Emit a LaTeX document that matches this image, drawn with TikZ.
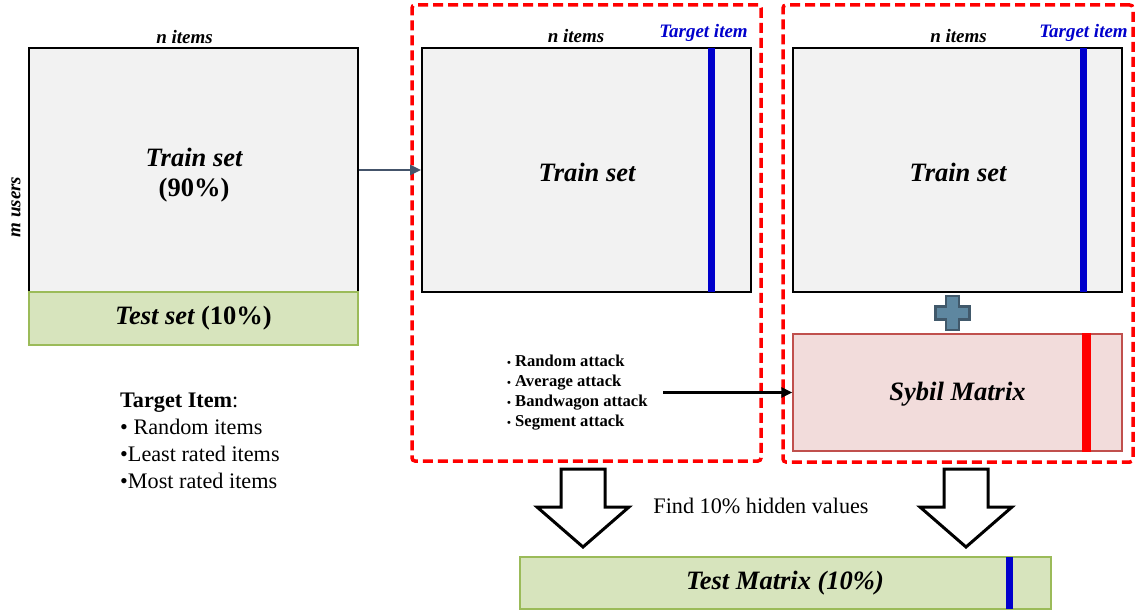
\documentclass[tikz,border=0pt]{standalone}
\usepackage{fontspec}
\setmainfont{Liberation Serif}
\usetikzlibrary{arrows.meta,calc}
\definecolor{grayfill}{HTML}{F2F2F2}
\definecolor{greenfill}{HTML}{D7E4BD}
\definecolor{greenline}{HTML}{9BBB59}
\definecolor{pinkfill}{HTML}{F2DCDB}
\definecolor{pinkline}{HTML}{C0504D}
\definecolor{tblue}{HTML}{0000CC}
\definecolor{slate}{HTML}{44546A}
\definecolor{plusfill}{HTML}{5E87A0}
\definecolor{plusline}{HTML}{41596B}
\newcommand{\bigbi}{\fontsize{26.5}{30}\selectfont\bfseries\itshape}
\newcommand{\smallbi}{\fontsize{19}{22}\selectfont\bfseries\itshape}
\newcommand{\smb}{{\fontsize{11}{11}\selectfont\textbullet}}
\begin{document}
\begin{tikzpicture}[x=1pt,y=-1pt,
  mat/.style={draw=black, line width=2pt, fill=grayfill, inner sep=0pt, minimum width=329pt, minimum height=244pt, align=center, font=\bigbi},
  greenbox/.style={draw=greenline, line width=2pt, fill=greenfill, inner sep=0pt, font=\bigbi},
  redbox/.style={draw=red, line width=3.5pt, dash pattern=on 10pt off 5pt, rounded corners=3pt, inner sep=0pt},
  bluebar/.style={fill=tblue, inner sep=0pt, minimum width=7pt},
  lbl/.style={inner sep=0pt, font=\smallbi},
  tlbl/.style={inner sep=0pt, font=\smallbi, text=tblue},
  txt/.style={inner sep=0pt, font=\bigbi},
  hollow/.style={draw=black, fill=white, line width=3pt, line join=miter},
  conn/.style={line width=2.5pt, -{Triangle[length=11pt,width=10pt]}}
]
\useasboundingbox (0,0) rectangle (1136,615);

% dashed groups
\node[redbox, minimum width=349pt, minimum height=456pt] (grp1) at (586.5,233) {};
\node[redbox, minimum width=350pt, minimum height=457pt] (grp2) at (958,233.5) {};

% left matrix
\node[mat] (train1) at (193.5,170) {};
\node[txt] (train1a) at (194,157) {Train set};
\node[txt, font=\fontsize{26.5}{30}\selectfont\bfseries] (train1b) at (194,190) {(90\%)};
\node[greenbox, minimum width=329pt, minimum height=53pt] (test1) at (193.5,318.5) {Test set {\upshape (10\%)}};
\node[lbl] (ni1) at (184.5,37) {n items};
\node[lbl, rotate=90] (mu) at (16,207) {m users};

% middle matrix
\node[mat] (train2) at (586.5,170) {};
\node[txt] (train2t) at (587,172) {Train set};
\node[bluebar, minimum height=244pt] (tb2) at (711,170) {};
\node[lbl] (ni2) at (576,36) {n items};
\node[tlbl] (ti2) at (703.5,33) {Target item};

% right matrix
\node[mat] (train3) at (957.5,170) {};
\node[txt] (train3t) at (958,172) {Train set};
\node[bluebar, minimum height=244pt] (tb3) at (1083,170) {};
\node[lbl] (ni3) at (958.5,36) {n items};
\node[tlbl] (ti3) at (1083.5,33) {Target item};

% plus sign
\coordinate (plus) at (952.5,313);
\draw[fill=plusfill, draw=plusline, line width=2.5pt]
  ($(plus)+(-6.5,-17)$) -- ($(plus)+(6.5,-17)$) -- ($(plus)+(6.5,-6.5)$) -- ($(plus)+(17,-6.5)$)
  -- ($(plus)+(17,6.5)$) -- ($(plus)+(6.5,6.5)$) -- ($(plus)+(6.5,17)$) -- ($(plus)+(-6.5,17)$)
  -- ($(plus)+(-6.5,6.5)$) -- ($(plus)+(-17,6.5)$) -- ($(plus)+(-17,-6.5)$) -- ($(plus)+(-6.5,-6.5)$) -- cycle;

% sybil matrix
\node[draw=pinkline, line width=1.5pt, fill=pinkfill, inner sep=0pt, minimum width=329pt, minimum height=117pt, font=\bigbi] (sybil) at (957.5,392.5) {};
\node[txt] (sybilt) at (957.5,394) {Sybil Matrix};
\node[fill=red, inner sep=0pt, minimum width=9pt, minimum height=119pt] (rb) at (1086,392.5) {};

% attacks
\node[anchor=west, inner sep=0pt, align=left, font=\fontsize{16.6}{20}\selectfont\bfseries] (attacks) at (507,393)
  {\smb{} Random attack\\\smb{} Average attack\\\smb{} Bandwagon attack\\\smb{} Segment attack};
\coordinate (attstart) at (663,392.5);

% target item list
\node[anchor=west, inner sep=0pt, align=left, font=\fontsize{22.2}{27}\selectfont] (tlist) at (120,440.5)
  {\textbf{Target Item}:\\\textbullet{} Random items\\\textbullet Least rated items\\\textbullet Most rated items};

% test matrix
\node[greenbox, minimum width=531pt, minimum height=52pt] (testm) at (785.5,583) {};
\node[txt] (testmt) at (785,583) {Test Matrix (10\%)};
\node[bluebar, minimum height=52pt] (tbm) at (1009,583) {};

\node[inner sep=0pt, font=\fontsize{22.2}{26}\selectfont] (find) at (761,506) {Find 10\% hidden values};

% connectors
\draw[conn, slate] (train1.east) -- (train2.west);
\draw[conn, black] (attstart) -- (sybil.west);

% hollow down arrows
\coordinate (dl) at (583,469);
\coordinate (dr) at (966,469);
\foreach \c in {dl,dr}{
  \draw[hollow] ($(\c)+(-22,0)$) -- ($(\c)+(22,0)$) -- ($(\c)+(22,38)$) -- ($(\c)+(46,38)$)
    -- ($(\c)+(0,78)$) -- ($(\c)+(-46,38)$) -- ($(\c)+(-22,38)$) -- cycle;
}
\end{tikzpicture}
\end{document}
